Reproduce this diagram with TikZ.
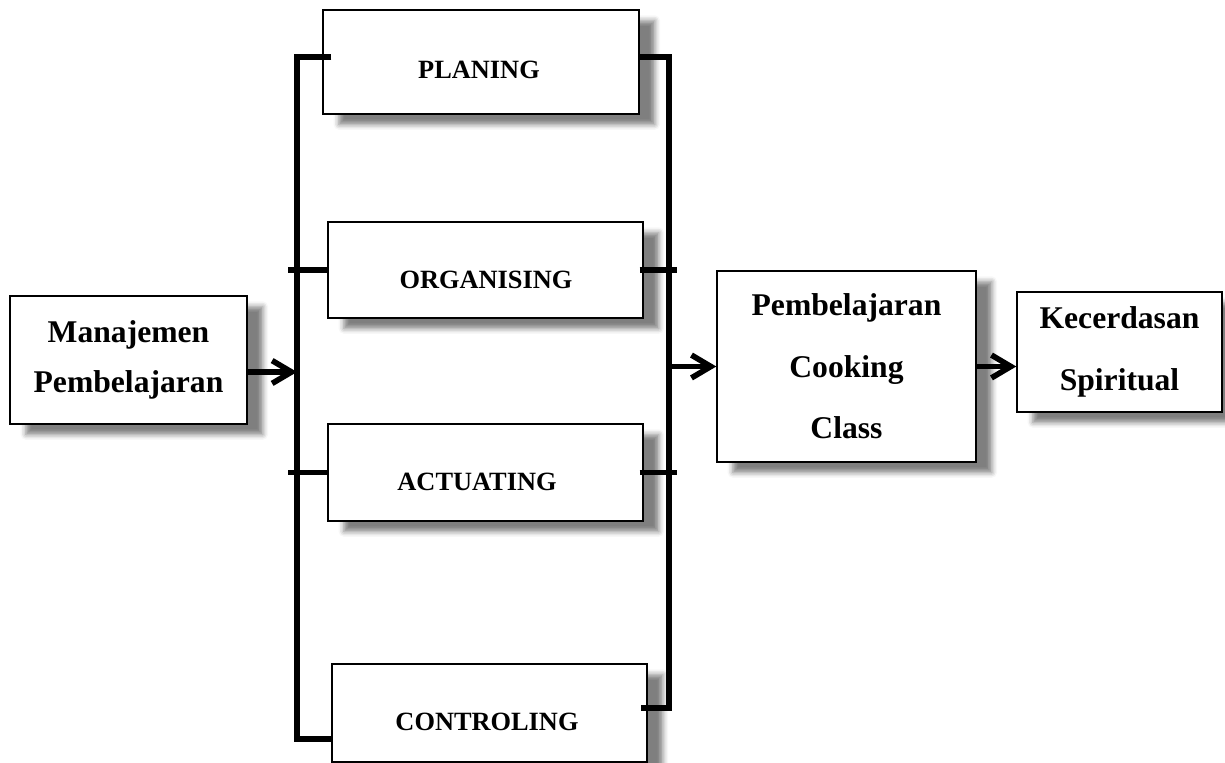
\documentclass[tikz,border=0pt]{standalone}
\usepackage{fontspec}
\setmainfont{Liberation Serif}
\usetikzlibrary{arrows.meta, positioning, calc, shadows.blur}
\tikzset{
  box/.style={draw, line width=0.8pt, fill=white, inner sep=0pt,
    blur shadow={shadow xshift=9pt, shadow yshift=-6pt, shadow blur radius=3pt, shadow opacity=50}},
  big/.style={box, align=center, font=\fontsize{18}{35}\selectfont\bfseries},
  lab/.style={font=\fontsize{15}{18}\selectfont\bfseries, inner sep=0pt},
  brk/.style={line width=3.4pt},
  tra/.style={-{Straight Barb[length=11pt, width=13pt]}, line width=3.2pt}
}
\begin{document}
\begin{tikzpicture}[x=0.02cm, y=-0.02cm]
	\useasboundingbox (0,0) rectangle (1225,763);
	% input and the two results
	\node[big, minimum width=4.74cm, minimum height=2.56cm, font=\fontsize{18}{28.5}\selectfont\bfseries] (man) at (128.5,360) {Manajemen\\Pembelajaran};
	\node[big, minimum width=5.18cm, minimum height=3.82cm] (cook) at (846.5,366.5) {Pembelajaran\\Cooking\\Class};
	\node[big, minimum width=4.1cm, minimum height=2.4cm] (kec) at (1119.5,352) {Kecerdasan\\Spiritual};
	% the four steps, label sits a bit below the middle
	\node[box, minimum width=6.32cm, minimum height=2.08cm] (plan) at (481,62) {};
	\node[box, minimum width=6.3cm, minimum height=1.92cm] (org) at (485.5,270) {};
	\node[box, minimum width=6.3cm, minimum height=1.94cm] (act) at (485.5,472.5) {};
	\node[box, minimum width=6.3cm, minimum height=1.96cm] (ctrl) at (489.5,713) {};
	\node[lab] (planl) at (479,70) {PLANING};
	\node[lab] (orgl) at (486,280) {ORGANISING};
	\node[lab] (actl) at (477,482) {ACTUATING};
	\node[lab] (ctrll) at (487,722) {CONTROLING};
	% brackets round the steps
	\coordinate (lt) at (297,57);
	\coordinate (lb) at (297,739);
	\coordinate (rt) at (669,57);
	\coordinate (rb) at (669,708);
	\draw[brk] ([xshift=0.18cm]plan.west |- lt) -- (lt) -- (lb) -- (lb -| ctrl.west);
	\draw[brk] (rt -| plan.east) -- (rt) -- (rb) -- ([xshift=-0.14cm]rb -| ctrl.east);
	\foreach \b in {org, act} { \draw[brk] (\b.west) -- ++(-39,0); \draw[brk] ([xshift=-0.08cm]\b.east) -- ++(37,0); }
	% arrows
	\draw[tra] ($(man.east)+(0,12)$) coordinate (m1) -- (m1 -| lt);
	\draw[tra] (rt |- cook.west) -- (cook.west);
	\draw[tra] (cook.east) -- (cook.east -| kec.west);
\end{tikzpicture}
\end{document}
